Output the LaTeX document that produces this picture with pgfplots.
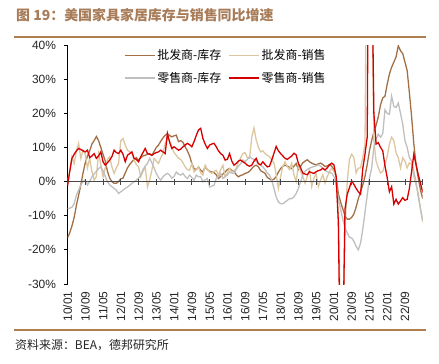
\documentclass[border=0pt]{standalone}
\usepackage{fontspec}
\setmainfont{Liberation Sans}
\newfontfamily\cjk{Noto Sans CJK SC}
\usepackage{pgfplots}
\usepackage{pgfplotstable}
\pgfplotsset{compat=1.18}
\definecolor{cBrown}{RGB}{163,112,70}
\definecolor{cTan}{RGB}{221,199,160}
\definecolor{cGray}{RGB}{191,191,191}
\definecolor{cRed}{RGB}{214,0,0}
\definecolor{cTitle}{RGB}{168,124,88}
\definecolor{cRule}{RGB}{175,125,80}
\definecolor{cZero}{RGB}{70,70,70}

\pgfplotstableread{
m bi bs ri rs
0 -16.5 0 -7.9 -1.4
1 -15 2.8 -7.8 3
2 -13 7.3 -7.5 6.8
3 -10.5 5.3 -6.5 8
4 -7 9 -4 9
5 -4 11.2 -2.5 9.7
6 -1 6.8 -1 9.4
7 2.5 9.2 0 9
8 5.5 8 0.5 8.7
9 7.5 4 -1 9.2
10 9 6.8 0 7
11 11 3 1.4 7.5
12 12 0.4 2.2 8.2
13 13.2 1.5 3 6.8
14 12 8.2 3.8 7.5
15 10 5 4.3 8.7
16 8 1.4 3.2 5.8
17 6 4 1.5 4.8
18 3 6.5 0 5.5
19 1 7.3 -1 6.3
20 0 4.3 -1.5 7.3
21 -0.5 2.4 -2 9.2
22 -0.5 4 -2.5 8.5
23 0 5.3 -3.5 8.2
24 0.8 12 -3 9.2
25 1 12.6 -2.5 8
26 2.5 10.7 -2 5.8
27 4 9.2 -1.6 7.7
28 5 8.7 -1.1 8.2
29 5.8 8.2 -0.5 8.7
30 6.5 6.3 -0.1 6.8
31 7 5 0.4 6.5
32 6.3 4.3 1 5.8
33 7 1.4 1.9 7.3
34 7.5 3 3.5 8.5
35 7.7 4.3 4.5 9.7
36 8 -1.6 5.3 8.2
37 8.2 0.5 6.8 8
38 7.7 3.3 5.5 7.7
39 8.8 6.8 4 8.2
40 10 6 2.4 8.5
41 10.7 5.3 1.2 8.7
42 11.8 7 0.4 9.2
43 12.8 8.2 1.4 8.7
44 13.6 11.2 2 8.2
45 14 12.6 2.4 14.1
46 13.5 12 1.9 11.5
47 13.1 10.2 1 9.7
48 13.4 8.5 1.5 10.2
49 13.6 7.7 2.8 9.7
50 11.7 6.8 2.2 9.2
51 12 6.5 1.9 9.5
52 11.5 5.5 2.4 10.2
53 10.2 4.3 1.5 10.7
54 9 3.5 0.9 11.2
55 7.5 3.3 1.9 10.8
56 5.3 5.3 1.2 10.2
57 3.8 2.8 0.4 11.7
58 3.5 3.5 1.9 13.5
59 4.3 4.3 1.4 15.1
60 3.3 2.5 1.4 15.6
61 2.8 1.9 -0.1 12.6
62 4.3 4.8 0.5 11
63 3.5 3.5 0.9 9.7
64 3 2.8 -1.6 10.7
65 2.8 2.4 -1.3 11
66 2.6 3 -1.1 11.2
67 2 3.3 0.9 10.2
68 0.9 1.9 1.5 9
69 1.5 3.5 2.4 8.2
70 2.2 4.8 0.9 7.7
71 2.8 1.4 1.5 6.3
72 3.5 2.5 1.9 6.5
73 3.8 3.8 2.8 8.2
74 3.3 2.8 2.5 6
75 3 3.3 2.4 4.8
76 2 3.8 3.5 5.3
77 1.4 5.8 4.5 6
78 1.8 7 5.3 6.3
79 2 8.2 6.3 5.8
80 2.4 8.5 5.8 5.4
81 2.6 7 6.5 4.8
82 3 6.8 7.3 4.5
83 3.8 13 6.8 4.8
84 4.5 15.7 6.5 6
85 4.8 12.2 5.8 6.8
86 4.3 10 5.3 5.2
87 3.2 8.7 4.8 4.9
88 2.8 9 4.3 5.8
89 2.4 8.2 3.5 5
90 1.2 7.7 2.5 4.3
91 0.8 7.3 1.9 4.5
92 0.4 6.3 0.4 6.3
93 0.7 5.5 -2 8.3
94 1.5 2 -4.5 10.3
95 2.8 -2 -6 9
96 3.8 1.4 -6.5 8.2
97 4.5 4.5 -6.5 7.5
98 4.8 5.8 -6 6.8
99 4.5 4.4 -5.5 6.5
100 4.2 3.5 -5 7
101 3.8 5.4 -5 7.5
102 4.5 2 -4.5 8.3
103 5.3 0 -3.5 7.8
104 3.5 4.8 -2 5.3
105 4.5 3 0 4
106 5.5 1.5 2 2.5
107 6 -0.5 3 2.2
108 6.4 1.5 3.5 2
109 5.8 3.4 3.9 2.9
110 5.4 -1.5 4.2 2.6
111 5.1 1 4.4 2.4
112 4.9 2.4 4.6 2.9
113 5.2 -1.5 4.9 3.2
114 5.4 0.5 4.5 3.4
115 5 2 3.9 3.9
116 4.4 -0.5 3.3 3.4
117 4.6 1.5 2.9 4
118 5 2.9 2.6 4.9
119 4.5 3.9 2.5 5.4
120 3.5 3 1.5 4.9
121 1.5 1.5 -1 1.5
122 -3.5 -10 -5 -12
123 -6 -40 -8 -60
124 -8 -45 -11 -50
125 -10 -15 -13.5 -8
126 -11 0 -15 -3.7
127 -11 6.5 -16.3 -1.8
128 -10.5 8 -16.5 0.2
129 -9.5 7 -17.5 -0.8
130 -7.5 2.5 -19 -2
131 -5 4 -20 -3
132 -3 4 -18 -3.7
133 -1 7 -14 3.8
134 1.5 11 -9 8
135 5 90 -4 13
136 9 100 1 120
137 12 60 4 70
138 14.5 12 10 20
139 16.5 6 12.5 11
140 19 4 13.9 11.4
141 22.5 2.5 13 10
142 24.5 3 14 9
143 25 5 21 4.6
144 28.5 7.3 20 1.2
145 31.5 11 19.7 -3
146 33.5 13 25 -1.5
147 35 12 22 -6.6
148 36.5 8.4 21.7 -5.2
149 39.8 7 23 -6.6
150 38.3 4 20 -5.7
151 37.5 7 16.8 -4.7
152 35 6 12 -5.5
153 32.5 4 10 -5.2
154 26 5.5 7 -2
155 19 5 6 3
156 11 1.5 3 8
157 5 -1 0 5
158 1 -3.5 -4.5 2
159 -2.5 -8 -8 -0.5
160 -5 -12 -11.5 -3.2
}\datatable

\begin{document}
\begin{tikzpicture}[x=1bp,y=1bp]
\useasboundingbox (0,0) rectangle (439,363);
\node[anchor=base west, text=cTitle, font=\cjk\bfseries\fontsize{14}{16}\selectfont, inner sep=0] at (16,343) {图 19：美国家具家居库存与销售同比增速};
\draw[cRule, line width=1.5bp] (14,326) -- (426,326);
\draw[cRule, line width=1.5bp] (14,33) -- (426,33);
\node[anchor=base west, font=\cjk\fontsize{12}{14}\selectfont, text=black!85, inner sep=0] at (15,14) {资料来源：BEA，德邦研究所};

\begin{axis}[
  at={(67.5bp,79bp)}, anchor=south west, scale only axis,
  width=355.2bp, height=239bp,
  xmin=0, xmax=160, ymin=-30, ymax=40,
  axis y line*=left, axis x line*=bottom,
  x axis line style={draw=none},
  y axis line style={black, line width=0.8bp},
  xtick={0,8,...,152},
  xticklabels={10/01,10/09,11/05,12/01,12/09,13/05,14/01,14/09,15/05,16/01,16/09,17/05,18/01,18/09,19/05,20/01,20/09,21/05,22/01,22/09},
  xtick style={draw=none},
  xticklabel style={rotate=90, anchor=east},
  ytick={-30,-20,...,40},
  yticklabels={-30\%,-20\%,-10\%,0\%,10\%,20\%,30\%,40\%},
  yticklabel style={xshift=-4bp},
  tick align=outside, major tick length=4bp,
  ytick style={black, line width=0.8bp},
  ticklabel style={font=\fontsize{12}{14}\selectfont, text=black!85},
  legend columns=2,
  legend cell align=left,
  legend style={at={(0.158,0.99)}, anchor=north west, draw=none, fill=none,
    font=\cjk\fontsize{12}{14}\selectfont, inner sep=0pt, row sep=7bp,
    /tikz/every even column/.append style={column sep=5bp}},
  legend image code/.code={\draw[#1, line width=1.5bp] (0bp,0bp) -- (30bp,0bp);},
  every axis plot/.append style={line width=1.3bp, mark=none},
]
\addplot[cBrown] table[x=m, y=bi] {\datatable};
\addlegendentry{批发商-库存}
\addplot[cTan] table[x=m, y=bs] {\datatable};
\addlegendentry{批发商-销售}
\addplot[cGray] table[x=m, y=ri] {\datatable};
\addlegendentry{零售商-库存}
\addplot[cRed] table[x=m, y=rs] {\datatable};
\addlegendentry{零售商-销售}
\end{axis}

\begin{axis}[
  at={(67.5bp,79bp)}, anchor=south west, scale only axis,
  width=355.2bp, height=239bp,
  xmin=0, xmax=160, ymin=-30, ymax=40,
  axis x line=middle, axis y line=none,
  axis line style={-, draw=cZero, line width=1.3bp},
  xtick={0,8,...,160}, xticklabels={},
  tick align=center, major tick length=6bp,
  xtick style={draw=cZero, line width=0.9bp},
  ytick=\empty,
]
\addplot[draw=none] coordinates {(0,0)};
\end{axis}
\end{tikzpicture}
\end{document}
